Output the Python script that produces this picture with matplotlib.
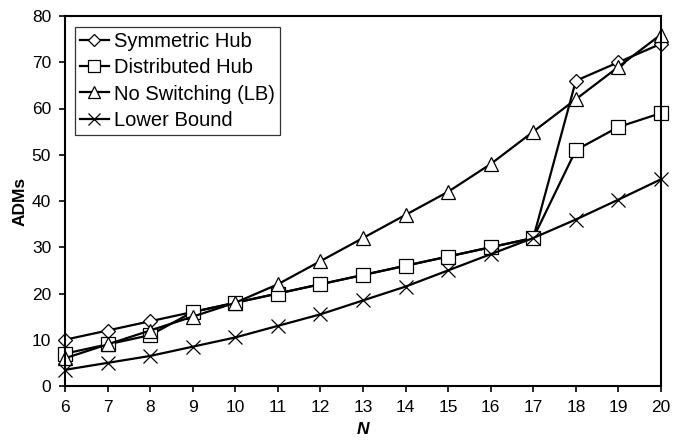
import matplotlib.pyplot as plt

plt.rcParams['font.family'] = ['Liberation Sans', 'DejaVu Sans']

# --- data ---
N = [6, 7, 8, 9, 10, 11, 12, 13, 14, 15, 16, 17, 18, 19, 20]
symmetric_hub = [10, 12, 14, 16, 18, 20, 22, 24, 26, 28, 30, 32, 66, 70, 74]
distributed_hub = [7, 9, 11, 16, 18, 20, 22, 24, 26, 28, 30, 32, 51, 56, 59]
no_switching = [6, 9, 12, 15, 18, 22, 27, 32, 37, 42, 48, 55, 62, 69, 76]
lower_bound = [3.5, 5, 6.5, 8.5, 10.5, 13, 15.5, 18.5, 21.5, 25, 28.5, 32, 36, 40.3, 44.7]

fig = plt.figure(figsize=(6.83, 4.42), dpi=100)
ax = fig.add_axes([65 / 683, 56 / 442, 596 / 683, 370 / 442])

style = dict(color='black', lw=1.6, mfc='white', mec='black', mew=0.9, clip_on=False)
ax.plot(N, symmetric_hub, marker='D', ms=7, label='Symmetric Hub', **style)
ax.plot(N, distributed_hub, marker='s', ms=10, label='Distributed Hub', **style)
ax.plot(N, no_switching, marker='^', ms=10, label='No Switching (LB)', **style)
ax.plot(N, lower_bound, marker='x', ms=10, label='Lower Bound', **style)

ax.set_xlim(6, 20)
ax.set_ylim(0, 80)
ax.set_xticks(N)
ax.set_yticks(range(0, 81, 10))
ax.tick_params(direction='out', length=4, width=1.2, labelsize=12.5, pad=6)
for s in ax.spines.values():
    s.set_linewidth(1.5)

ax.set_xlabel('N', fontsize=12.5, fontweight='bold', fontstyle='italic', labelpad=5)
ax.set_ylabel('ADMs', fontsize=12.5, fontweight='bold', labelpad=3)

leg = ax.legend(loc='upper left', bbox_to_anchor=(10 / 596, 1 - 11 / 370), fontsize=14.5,
                frameon=True, fancybox=False, edgecolor='black', handlelength=1.42,
                borderpad=0.25, labelspacing=0.36, handletextpad=0.25, borderaxespad=0,
                markerscale=0.85)
leg.get_frame().set_linewidth(0.9)

fig.savefig('out.png', dpi=100)
